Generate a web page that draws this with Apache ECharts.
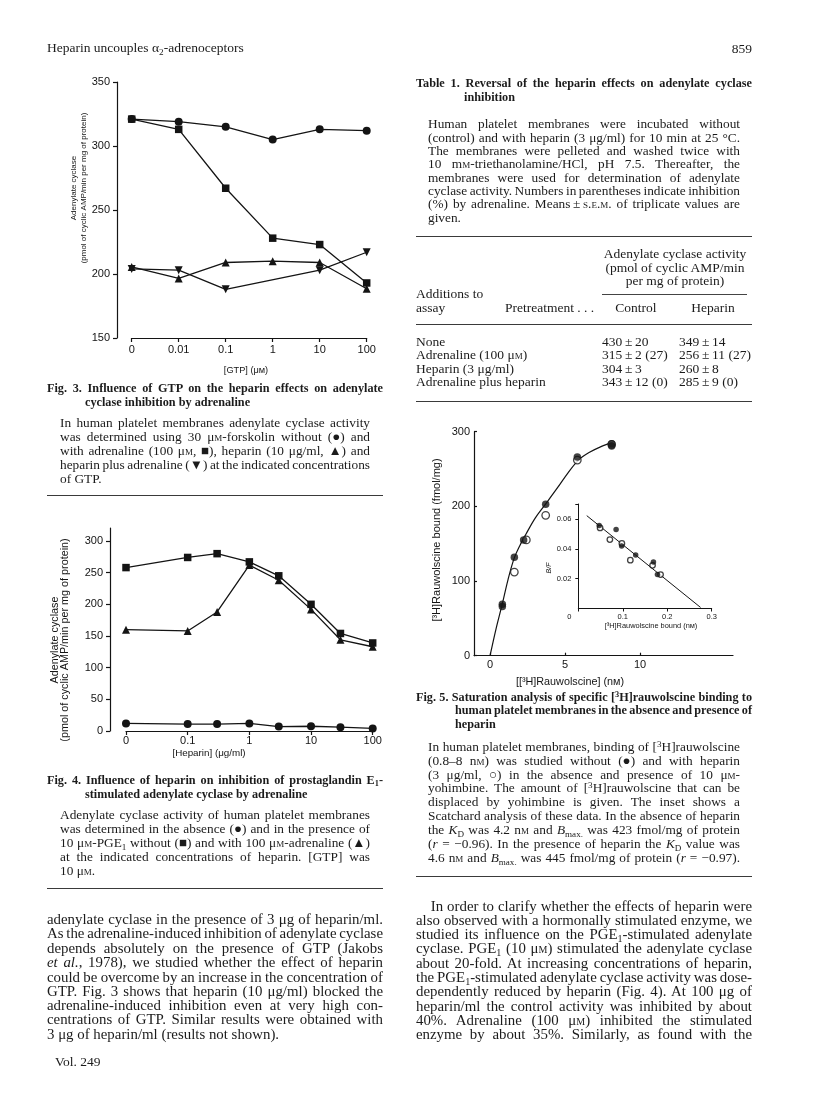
<!DOCTYPE html>
<html><head><meta charset="utf-8">
<script src="https://cdn.jsdelivr.net/npm/echarts@6/dist/echarts.min.js"></script>
<style>
html,body{margin:0;padding:0;background:#fff;}
#page{position:relative;width:816px;height:1100px;overflow:hidden;background:#fff;}
#chart{position:absolute;left:0;top:0;width:816px;height:1100px;}
.t{position:absolute;font-family:'Liberation Serif','Times New Roman',serif;color:#1b1b1b;white-space:nowrap;height:14px;line-height:14px;}
.t>span{display:inline-block;}
.b{font-weight:bold;}
.c{font-size:12.5px;}
.m{font-size:14px;}
.tb{font-size:13.5px;}
.sc{font-variant:small-caps;}
sub,sup{font-size:0.68em;line-height:0;position:relative;vertical-align:baseline;}
sub{top:0.3em;}
sup{top:-0.45em;}
.rule{position:absolute;height:0;border-top:1.6px solid #3a3a3a;}
.rule.thin{border-top:1px solid #444;}
</style></head>
<body><div id="page"><div id="chart"></div></div>
<script>
// ---------------- DATA ----------------
// Fig. 3
const GTP = [0, 0.01, 0.1, 1, 10, 100];
const GTP_LABELS = ['0', '0.01', '0.1', '1', '10', '100'];
const f3Forskolin = [321, 319, 315, 305, 313, 312];
const f3Adrenaline = [321, 313, 267, 228, 223, 193];
const f3Heparin = [205.5, 196.5, 209, 210, 209, 188.5];
const f3HeparinAdrenaline = [204, 203, 188, null, 203, 217];

// Fig. 4
const HEPARIN = [0, 0.1, 0.3, 1, 3, 10, 30, 100];
const HEP_TICKS = [0, 0.1, 1, 10, 100];
const HEP_LABELS = ['0', '0.1', '1', '10', '100'];
const f4Basal = [12, 11, 11, 12, 7, 7.5, 6, 4];
const f4PGE = [258, 274, 280, 267, 245, 200, 154, 139];
const f4PGEAdrenaline = [160, 158, 188, 262, 238, 192, 144, 133];
const F4_Y_TICKS = [0, 50, 100, 150, 200, 250, 300];

// Fig. 5 (main)
const f5ConcFilled = [0.82, 0.82, 1.62, 2.24, 3.71, 5.82, 8.11, 8.11];
const f5BoundFilled = [69, 66, 132, 155, 203, 266, 284, 281];
const f5ConcOpen = [1.62, 2.42, 3.71, 5.82, 8.11];
const f5BoundOpen = [112, 155, 188, 262, 283];
const f5CurveConc = [0, 0.4, 0.8, 1.2, 1.6, 2.0, 2.4, 3.0, 3.7, 4.5, 5.2, 5.9, 6.6, 7.4, 8.2];
const f5CurveBound = [0, 36, 68, 102, 130, 148, 163, 184, 203, 225, 245, 262, 272, 280, 286];
const F5_X_TICKS = [0, 5, 10];

// Fig. 5 inset (Scatchard)
const insBoundFilled = [0.047, 0.085, 0.0975, 0.129, 0.169, 0.178];
const insBFFilled = [0.0556, 0.0529, 0.0418, 0.0358, 0.0311, 0.0227];
const insBoundOpen = [0.049, 0.071, 0.098, 0.117, 0.167, 0.185];
const insBFOpen = [0.054, 0.0462, 0.0436, 0.0324, 0.0289, 0.0227];
const insLineBound = [0.019, 0.275];
const insLineBF = [0.0622, 0.0007];
const INS_X_TICKS = [0, 0.1, 0.2, 0.3];
const INS_Y_TICKS = [0.02, 0.04, 0.06];

// ---------------- CHART ----------------
const INK = '#141414';
const pos3 = v => v === 0 ? 0 : Math.log10(v) + 3;   // "0" drawn one decade below 0.01
const pos4 = v => v === 0 ? -2 : Math.log10(v);      // "0" drawn one decade below 0.1
const pairs = (xs, ys, f) => xs.map((x, i) => ys[i] == null ? null : [f ? f(x) : x, ys[i]]).filter(Boolean);

const axLine = {show: true, onZero: false, lineStyle: {color: INK, width: 1.2}};
const lab = (o) => Object.assign({color: INK, fontFamily: 'Liberation Sans', fontSize: 11}, o);

function lineSeries(g, data, symbol, size, rot) {
  return {type: 'line', xAxisIndex: g, yAxisIndex: g, data, symbol, symbolSize: size,
    symbolRotate: rot || 0, showSymbol: true, lineStyle: {color: INK, width: 1.3},
    itemStyle: {color: INK}, emphasis: {disabled: true}, z: 3, animation: false};
}
function scatter(g, data, open, size) {
  return {type: 'scatter', xAxisIndex: g, yAxisIndex: g, data, symbol: 'circle', symbolSize: size,
    itemStyle: open ? {color: '#fff', borderColor: INK, borderWidth: 1.3} : {color: INK},
    emphasis: {disabled: true}, z: open ? 3 : 4, animation: false};
}
function gtext(x, y, text, font, rot) {
  return {type: 'text', x, y, rotation: rot || 0, silent: true, z: 10,
    style: {text, font, fill: INK, align: 'center', verticalAlign: 'middle',
      textAlign: 'center', textVerticalAlign: 'middle'}};
}

const chart = echarts.init(document.getElementById('chart'), null, {renderer: 'canvas'});
const SANS = 'Liberation Sans';
chart.setOption({
  animation: false,
  backgroundColor: '#fff',
  textStyle: {fontFamily: SANS},
  grid: [
    {left: 131.7, top: 82, width: 235, height: 256, outerBoundsMode: 'none'},
    {left: 126, top: 528, width: 246.7, height: 203, outerBoundsMode: 'none'},
    {left: 474, top: 431.7, width: 259, height: 224, outerBoundsMode: 'none'},
    {left: 578.3, top: 504, width: 133.4, height: 104.5, outerBoundsMode: 'none'}
  ],
  xAxis: [
    {gridIndex: 0, type: 'value', min: 0, max: 5, interval: 1, axisLine: axLine,
      axisTick: {show: true, length: 4, lineStyle: {color: INK, width: 1.2}},
      splitLine: {show: false},
      axisLabel: lab({margin: 6, formatter: v => GTP_LABELS[GTP.map(pos3).findIndex(p => Math.abs(p - v) < 1e-6)]})},
    {gridIndex: 1, type: 'value', min: -2, max: 2, interval: 1, axisLine: axLine,
      axisTick: {show: true, length: 4, lineStyle: {color: INK, width: 1.2}},
      splitLine: {show: false},
      axisLabel: lab({margin: 4, formatter: v => HEP_LABELS[HEP_TICKS.map(pos4).findIndex(p => Math.abs(p - v) < 1e-6)]})},
    {gridIndex: 2, type: 'value', min: -1.07, max: 16.2, axisLine: axLine,
      axisTick: {show: true, inside: true, length: 3, customValues: F5_X_TICKS, lineStyle: {color: INK, width: 1.2}},
      splitLine: {show: false},
      axisLabel: lab({margin: 4, customValues: F5_X_TICKS})},
    {gridIndex: 3, type: 'value', min: 0, max: 0.3, axisLine: {show: true, onZero: false, lineStyle: {color: INK, width: 1}},
      axisTick: {show: true, length: 3, customValues: INS_X_TICKS, lineStyle: {color: INK, width: 1}},
      splitLine: {show: false},
      axisLabel: lab({fontSize: 7.5, margin: 4, customValues: INS_X_TICKS,
        formatter: v => v === 0 ? '{z|0}' : String(+v.toFixed(2)),
        rich: {z: {fontSize: 7.5, fontFamily: SANS, color: INK, padding: [0, 18, 0, 0]}}})}
  ],
  yAxis: [
    {gridIndex: 0, type: 'value', min: 150, max: 350, interval: 50, offset: 14.7, axisLine: axLine,
      axisTick: {show: true, length: 4, lineStyle: {color: INK, width: 1.2}},
      splitLine: {show: false}, axisLabel: lab({margin: 7})},
    {gridIndex: 1, type: 'value', min: 0, max: 320.5, offset: 16, axisLine: axLine,
      axisTick: {show: true, length: 4, customValues: F4_Y_TICKS, lineStyle: {color: INK, width: 1.2}},
      splitLine: {show: false}, axisLabel: lab({margin: 7, customValues: F4_Y_TICKS})},
    {gridIndex: 2, type: 'value', min: 0, max: 300, interval: 100, axisLine: axLine,
      axisTick: {show: true, inside: true, length: 3, lineStyle: {color: INK, width: 1.2}},
      splitLine: {show: false}, axisLabel: lab({margin: 4})},
    {gridIndex: 3, type: 'value', min: 0, max: 0.07, axisLine: {show: true, onZero: false, lineStyle: {color: INK, width: 1}},
      axisTick: {show: true, length: 3, customValues: INS_Y_TICKS.concat([0.07]), lineStyle: {color: INK, width: 1}},
      splitLine: {show: false}, axisLabel: lab({fontSize: 7.5, margin: 7, customValues: INS_Y_TICKS})}
  ],
  series: [
    lineSeries(0, pairs(GTP, f3Forskolin, pos3), 'circle', 8),
    lineSeries(0, pairs(GTP, f3Adrenaline, pos3), 'rect', 7.5),
    lineSeries(0, pairs(GTP, f3Heparin, pos3), 'triangle', 8),
    lineSeries(0, pairs(GTP, f3HeparinAdrenaline, pos3), 'triangle', 8, 180),
    lineSeries(1, pairs(HEPARIN, f4Basal, pos4), 'circle', 8),
    lineSeries(1, pairs(HEPARIN, f4PGE, pos4), 'rect', 7.5),
    lineSeries(1, pairs(HEPARIN, f4PGEAdrenaline, pos4), 'triangle', 8),
    {type: 'line', xAxisIndex: 2, yAxisIndex: 2, data: pairs(f5CurveConc, f5CurveBound), smooth: 0.35,
      showSymbol: false, symbol: 'none', lineStyle: {color: INK, width: 1.2}, z: 2, animation: false},
    scatter(2, pairs(f5ConcOpen, f5BoundOpen), true, 7.5),
    scatter(2, pairs(f5ConcFilled, f5BoundFilled), false, 7.5),
    {type: 'line', xAxisIndex: 3, yAxisIndex: 3, data: pairs(insLineBound, insLineBF),
      showSymbol: false, symbol: 'none', lineStyle: {color: INK, width: 1}, z: 2, animation: false},
    scatter(3, pairs(insBoundOpen, insBFOpen), true, 5.5),
    scatter(3, pairs(insBoundFilled, insBFFilled), false, 5.5)
  ],
  graphic: [
    gtext(73.3, 188, 'Adenylate cyclase', '8px ' + SANS, Math.PI / 2),
    gtext(83.3, 188, '(pmol of cyclic AMP/min per mg of protein)', '8px ' + SANS, Math.PI / 2),
    gtext(246, 370, '[GTP] (μᴍ)', '9.2px ' + SANS),
    gtext(55, 640, 'Adenylate cyclase', '10.8px ' + SANS, Math.PI / 2),
    gtext(65.5, 640, '(pmol of cyclic AMP/min per mg of protein)', '10.8px ' + SANS, Math.PI / 2),
    gtext(209, 753, '[Heparin] (μg/ml)', '9.8px ' + SANS),
    gtext(436.7, 540, '[³H]Rauwolscine bound (fmol/mg)', '11px ' + SANS, Math.PI / 2),
    gtext(570, 682, '[[³H]Rauwolscine] (nᴍ)', '10.8px ' + SANS),
    gtext(549, 568, 'B/F', 'italic 7px ' + SANS, Math.PI / 2),
    gtext(651, 626, '[³H]Rauwolscine bound (nᴍ)', '7.4px ' + SANS)
  ]
});

// ---------------- PAGE TEXT ----------------
// [left, centreY, width, classes, html, align]  align: j=justify, l=left, r=right, c=centre
const TEXT_LINES = [
  [47, 48.3, 0, 'tb', 'Heparin uncouples α<sub>2</sub>-adrenoceptors', 'l'],
  [47, 388, 336, 'c b', 'Fig. 3. Influence of GTP on the heparin effects on adenylate', 'j'],
  [85, 401.5, 0, 'c b', 'cyclase inhibition by adrenaline', 'l'],
  [60, 423, 310, 'c', 'In human platelet membranes adenylate cyclase activity', 'j'],
  [60, 437.2, 310, 'c', 'was determined using 30 μM-forskolin without (●) and', 'j'],
  [60, 451.3, 310, 'c', 'with adrenaline (100 μM, ■), heparin (10 μg/ml, ▲) and', 'j'],
  [60, 465.3, 310, 'c', 'heparin plus adrenaline (▼) at the indicated concentrations', 'j'],
  [60, 479, 0, 'c', 'of GTP.', 'l'],
  [47, 780, 336, 'c b', 'Fig. 4. Influence of heparin on inhibition of prostaglandin E<sub>1</sub>-', 'j'],
  [85, 794, 0, 'c b', 'stimulated adenylate cyclase by adrenaline', 'l'],
  [60, 815, 310, 'c', 'Adenylate cyclase activity of human platelet membranes', 'j'],
  [60, 829.3, 310, 'c', 'was determined in the absence (●) and in the presence of', 'j'],
  [60, 843.3, 310, 'c', '10 μM-PGE<sub>1</sub> without (■) and with 100 μM-adrenaline (▲)', 'j'],
  [60, 857.3, 310, 'c', 'at the indicated concentrations of heparin. [GTP] was', 'j'],
  [60, 871, 0, 'c', '10 μM.', 'l'],
  [47, 919, 336, 'm', 'adenylate cyclase in the presence of 3 μg of heparin/ml.', 'j'],
  [47, 933.3, 336, 'm', 'As the adrenaline-induced inhibition of adenylate cyclase', 'j'],
  [47, 947.7, 336, 'm', 'depends absolutely on the presence of GTP (Jakobs', 'j'],
  [47, 962.2, 336, 'm', '<i>et al.</i>, 1978), we studied whether the effect of heparin', 'j'],
  [47, 976.6, 336, 'm', 'could be overcome by an increase in the concentration of', 'j'],
  [47, 990.8, 336, 'm', 'GTP. Fig. 3 shows that heparin (10 μg/ml) blocked the', 'j'],
  [47, 1005, 336, 'm', 'adrenaline-induced inhibition even at very high con-', 'j'],
  [47, 1019.4, 336, 'm', 'centrations of GTP. Similar results were obtained with', 'j'],
  [47, 1034, 0, 'm', '3 μg of heparin/ml (results not shown).', 'l'],
  [55, 1062.3, 0, 'tb', 'Vol. 249', 'l'],

  [700, 49, 52, 'tb', '859', 'r'],
  [416, 83, 336, 'c b', 'Table 1. Reversal of the heparin effects on adenylate cyclase', 'j'],
  [464, 96.5, 0, 'c b', 'inhibition', 'l'],
  [428, 124.3, 312, 'c', 'Human platelet membranes were incubated without', 'j'],
  [428, 137.6, 312, 'c', '(control) and with heparin (3 μg/ml) for 10 min at 25 °C.', 'j'],
  [428, 151, 312, 'c', 'The membranes were pelleted and washed twice with', 'j'],
  [428, 164.3, 312, 'c', '10 mM-triethanolamine/HCl, pH 7.5. Thereafter, the', 'j'],
  [428, 177.6, 312, 'c', 'membranes were used for determination of adenylate', 'j'],
  [428, 191, 312, 'c', 'cyclase activity. Numbers in parentheses indicate inhibition', 'j'],
  [428, 204.3, 312, 'c', '(%) by adrenaline. Means\u2009±\u2009<span class=sc>s.e.m.</span> of triplicate values are', 'j'],
  [428, 217.6, 0, 'c', 'given.', 'l'],
  [596, 254, 158, 'tb', 'Adenylate cyclase activity', 'c'],
  [596, 267.5, 158, 'tb', '(pmol of cyclic AMP/min', 'c'],
  [596, 281, 158, 'tb', 'per mg of protein)', 'c'],
  [416, 294, 0, 'tb', 'Additions to', 'l'],
  [416, 307.5, 0, 'tb', 'assay', 'l'],
  [505, 307.5, 0, 'tb', 'Pretreatment . . .', 'l'],
  [606, 307.5, 60, 'tb', 'Control', 'c'],
  [683, 307.5, 60, 'tb', 'Heparin', 'c'],
  [416, 342, 0, 'tb', 'None', 'l'],
  [416, 355.2, 0, 'tb', 'Adrenaline (100 μM)', 'l'],
  [416, 368.5, 0, 'tb', 'Heparin (3 μg/ml)', 'l'],
  [416, 381.7, 0, 'tb', 'Adrenaline plus heparin', 'l'],
  [602, 342, 0, 'tb', '430\u2009±\u200920', 'l'],
  [602, 355.2, 0, 'tb', '315\u2009±\u20092 (27)', 'l'],
  [602, 368.5, 0, 'tb', '304\u2009±\u20093', 'l'],
  [602, 381.7, 0, 'tb', '343\u2009±\u200912 (0)', 'l'],
  [679, 342, 0, 'tb', '349\u2009±\u200914', 'l'],
  [679, 355.2, 0, 'tb', '256\u2009±\u200911 (27)', 'l'],
  [679, 368.5, 0, 'tb', '260\u2009±\u20098', 'l'],
  [679, 381.7, 0, 'tb', '285\u2009±\u20099 (0)', 'l'],

  [416, 696.5, 336, 'c b', 'Fig. 5. Saturation analysis of specific [<sup>3</sup>H]rauwolscine binding to', 'j'],
  [455, 710.3, 297, 'c b', 'human platelet membranes in the absence and presence of', 'j'],
  [455, 724, 0, 'c b', 'heparin', 'l'],
  [428, 746.7, 312, 'c', 'In human platelet membranes, binding of [<sup>3</sup>H]rauwolscine', 'j'],
  [428, 760.7, 312, 'c', '(0.8–8 nM) was studied without (●) and with heparin', 'j'],
  [428, 774.5, 312, 'c', '(3 μg/ml, ○) in the absence and presence of 10 μM-', 'j'],
  [428, 788.4, 312, 'c', 'yohimbine. The amount of [<sup>3</sup>H]rauwolscine that can be', 'j'],
  [428, 802.3, 312, 'c', 'displaced by yohimbine is given. The inset shows a', 'j'],
  [428, 816.3, 312, 'c', 'Scatchard analysis of these data. In the absence of heparin', 'j'],
  [428, 830.3, 312, 'c', 'the <i>K</i><sub>D</sub> was 4.2 nM and <i>B</i><sub>max.</sub> was 423 fmol/mg of protein', 'j'],
  [428, 844.3, 312, 'c', '(<i>r</i> = −0.96). In the presence of heparin the <i>K</i><sub>D</sub> value was', 'j'],
  [428, 858.3, 312, 'c', '4.6 nM and <i>B</i><sub>max.</sub> was 445 fmol/mg of protein (<i>r</i> = −0.97).', 'j'],
  [430.7, 905.7, 321.3, 'm', 'In order to clarify whether the effects of heparin were', 'j'],
  [416, 919.8, 336, 'm', 'also observed with a hormonally stimulated enzyme, we', 'j'],
  [416, 934, 336, 'm', 'studied its influence on the PGE<sub>1</sub>-stimulated adenylate', 'j'],
  [416, 948.3, 336, 'm', 'cyclase. PGE<sub>1</sub> (10 μM) stimulated the adenylate cyclase', 'j'],
  [416, 962.7, 336, 'm', 'about 20-fold. At increasing concentrations of heparin,', 'j'],
  [416, 976.8, 336, 'm', 'the PGE<sub>1</sub>-stimulated adenylate cyclase activity was dose-', 'j'],
  [416, 991, 336, 'm', 'dependently reduced by heparin (Fig. 4). At 100 μg of', 'j'],
  [416, 1005.5, 336, 'm', 'heparin/ml the control activity was inhibited by about', 'j'],
  [416, 1020, 336, 'm', '40%. Adrenaline (100 μM) inhibited the stimulated', 'j'],
  [416, 1034.3, 336, 'm', 'enzyme by about 35%. Similarly, as found with the', 'j']
];
// [left, y, width, thin]
const RULES = [
  [47, 495, 336, 0], [47, 887.5, 336, 0],
  [416, 236, 336, 0], [602, 294, 145, 1], [416, 324, 336, 0], [416, 401, 336, 0],
  [416, 876, 336, 0]
];

const page = document.getElementById('page');
const smallCapsUnits = s => s.replace(/(μ|n|m)M(?=[\s\-\.,\)]|$)/g, '$1<span class=sc>m</span>');
const all = [];
TEXT_LINES.forEach(([x, cy, w, cls, html, align]) => {
  const d = document.createElement('div');
  d.className = 't ' + cls;
  d.style.left = x + 'px';
  d.style.top = (cy - 7) + 'px';
  const s = document.createElement('span');
  s.innerHTML = smallCapsUnits(html);
  d.appendChild(s);
  if (w > 0) d.style.width = w + 'px';
  if (align === 'r') d.style.textAlign = 'right';
  if (align === 'c') d.style.textAlign = 'center';
  page.appendChild(d);
  all.push({d, s, w, cls, align});
});
RULES.forEach(([x, y, w, thin]) => {
  const r = document.createElement('div');
  r.className = 'rule' + (thin ? ' thin' : '');
  r.style.left = x + 'px'; r.style.top = y + 'px'; r.style.width = w + 'px';
  page.appendChild(r);
});
// size each text style so its tightest justified lines fill the measure, then justify
['c', 'c b', 'm'].forEach(cls => {
  const items = all.filter(it => it.cls === cls);
  const just = items.filter(it => it.align === 'j');
  const base = parseFloat(getComputedStyle(items[0].d).fontSize);
  const ratios = just.map(it => it.w / it.s.getBoundingClientRect().width).sort((a, b) => a - b);
  const r = ratios[Math.floor(ratios.length * 0.2)];
  const size = base * r * 0.995;
  items.forEach(it => { it.d.style.fontSize = size + 'px'; });
});
all.filter(it => it.align === 'j').forEach(({s, w}) => {
  const n = (s.textContent.match(/[ \u00a0]/g) || []).length;
  const nat = s.getBoundingClientRect().width;
  if (n > 0) s.style.wordSpacing = ((w - nat) / n) + 'px';
});
</script>
</body></html>
